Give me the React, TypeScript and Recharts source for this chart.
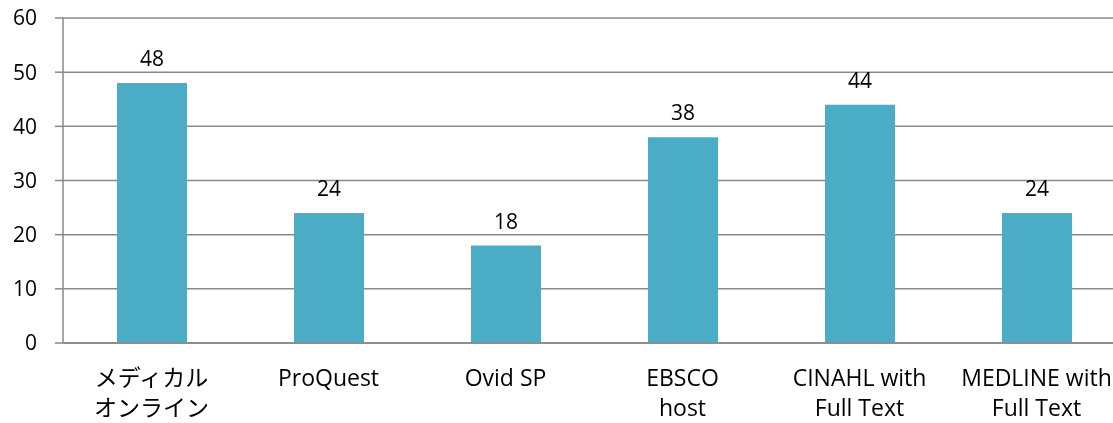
import React from "react";
import { BarChart, Bar, XAxis, YAxis, CartesianGrid, LabelList } from "recharts";

const categories = ["メディカル\nオンライン", "ProQuest", "Ovid SP", "EBSCO\nhost", "CINAHL with\nFull Text", "MEDLINE with\nFull Text"];
const values = [48, 24, 18, 38, 44, 24];
const yTicks = [0, 10, 20, 30, 40, 50, 60];
const boundaryTicks = [0, 1, 2, 3, 4, 5, 6];

const data = categories.map((name, i) => ({ name, value: values[i] }));

const FONT = "'Open Sans', 'Noto Sans CJK JP', sans-serif";
const GRAY = "#898989";

const CatTick = (props: any) => {
  const { x, y, payload } = props;
  const lines = String(payload.value).split("\n");
  return (
    <text x={x} y={y} textAnchor="middle" fill="#000" fontSize={23} fontFamily={FONT}>
      {lines.map((l: string, i: number) => (
        <tspan key={i} x={x} dy={i === 0 ? 35 : 30}>
          {l}
        </tspan>
      ))}
    </text>
  );
};

const EmptyTick = () => <g />;

export default function App() {
  return (
    <div style={{ position: "fixed", left: 0, top: 0, width: 1113, height: 423, overflow: "hidden" }}>
      <BarChart
        width={1125}
        height={423}
        data={data}
        margin={{ top: 18, right: 0, bottom: 0, left: 0 }}
        barSize={70}
      >
        <CartesianGrid horizontal vertical={false} stroke={GRAY} strokeWidth={1.5} />
        <XAxis
          xAxisId="edge"
          type="number"
          domain={[0, 6]}
          ticks={boundaryTicks}
          tick={<EmptyTick />}
          axisLine={false}
          tickLine={{ stroke: GRAY, strokeWidth: 1.5 }}
          tickSize={8}
          height={0}
          orientation="bottom"
          interval={0}
        />
        <XAxis
          dataKey="name"
          xAxisId="cat"
          axisLine={{ stroke: GRAY, strokeWidth: 1.5 }}
          tickLine={false}
          tick={<CatTick />}
          interval={0}
          height={80}
        />
        <YAxis
          domain={[0, 60]}
          ticks={yTicks}
          width={63}
          axisLine={{ stroke: GRAY, strokeWidth: 1.5 }}
          tickLine={{ stroke: GRAY, strokeWidth: 1.5 }}
          tickSize={8}
          tickMargin={18}
          tick={{ fill: "#000", fontSize: 21, fontFamily: FONT }}
          interval={0}
        />
        <Bar dataKey="value" xAxisId="cat" fill="#4BACC6" isAnimationActive={false}>
          <LabelList dataKey="value" position="top" offset={17} fill="#000" fontSize={21} fontFamily={FONT} />
        </Bar>
      </BarChart>
    </div>
  );
}
